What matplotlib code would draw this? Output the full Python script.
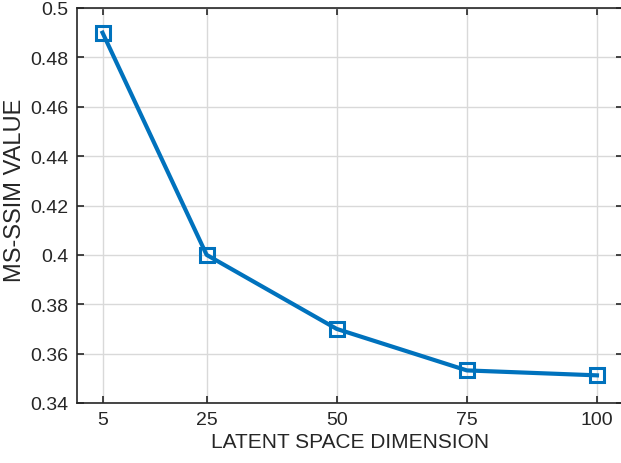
import matplotlib
matplotlib.use("Agg")
import matplotlib.pyplot as plt

dims = [5, 25, 50, 75, 100]
msssim = [0.490, 0.400, 0.370, 0.3532, 0.3512]
xticks = [5, 25, 50, 75, 100]
yticks = [0.34, 0.36, 0.38, 0.40, 0.42, 0.44, 0.46, 0.48, 0.50]
ytick_labels = ["0.34", "0.36", "0.38", "0.4", "0.42", "0.44", "0.46", "0.48", "0.5"]

plt.rcParams['font.family'] = ['Liberation Sans', 'DejaVu Sans']
fig = plt.figure(figsize=(6.21, 4.64), dpi=100)
W, H = 621, 464
ax = fig.add_axes([76.5 / W, (H - 404) / H, (623 - 76.5) / W, (404 - 9) / H])

ax.plot(dims, msssim, color='#0072BD', linewidth=3, marker='s', markersize=10,
        markerfacecolor='none', markeredgewidth=2.2, markeredgecolor='#0072BD')

ax.set_xlim(0, 105)
ax.set_ylim(0.34, 0.50)
ax.set_xticks(xticks)
ax.set_xticklabels([str(t) for t in xticks])
ax.set_yticks(yticks)
ax.set_yticklabels(ytick_labels)
ax.grid(True, color='#d9d9d9', linewidth=1)
ax.set_axisbelow(True)
ax.tick_params(direction='in', length=5, width=1.2, top=True, right=True,
               labelsize=14, colors='#262626', pad=6)
for s in ax.spines.values():
    s.set_color('#262626')
    s.set_linewidth(1.2)
ax.set_xlabel('LATENT SPACE DIMENSION', fontsize=15, color='#262626', labelpad=3)
ax.set_ylabel('MS-SSIM VALUE', fontsize=17, color='#262626')
ax.yaxis.set_label_coords(-0.093, 0.542)

fig.savefig('out.png', dpi=100)
